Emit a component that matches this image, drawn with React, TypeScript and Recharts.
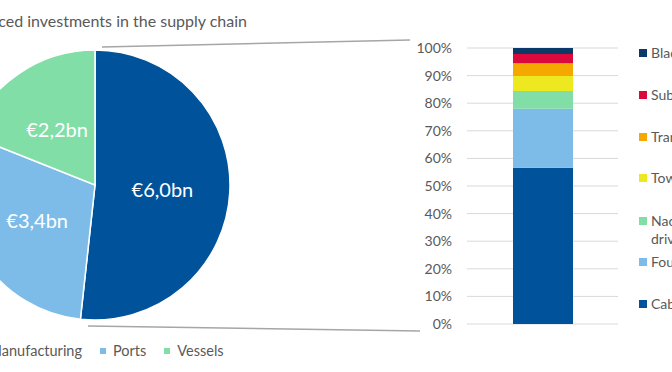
import React from "react";
import { PieChart, Pie, Cell, BarChart, Bar, XAxis, YAxis, CartesianGrid } from "recharts";

const pieNames = ["Manufacturing", "Ports", "Vessels"];
const pieValues = [6.0, 3.4, 2.2];
const pieColors = ["#00529A", "#7DBCE9", "#80DEA6"];

const barCategories = ["Supply chain"];
const barSeries = ["Cables", "Foundations", "Nacelles and drivetrains", "Towers", "Transmission", "Substations", "Blades"];
const barValues = [0.566, 0.214, 0.064, 0.055, 0.046, 0.033, 0.022];
const barColors = ["#00529A", "#7DBCE9", "#80DEA6", "#EDE81F", "#F4A800", "#DC0A3C", "#0B3A68"];
const yTicks = [0, 0.1, 0.2, 0.3, 0.4, 0.5, 0.6, 0.7, 0.8, 0.9, 1.0];

const titleText = "Announced investments in the supply chain";

const FONT = "Lato, 'Open Sans', sans-serif";
const GRAY = "#595959";

const pieData = pieNames.map((n, i) => ({ name: n, value: pieValues[i] }));
const barRow: Record<string, any> = { cat: barCategories[0] };
barSeries.forEach((s, i) => (barRow[s] = barValues[i]));
const barData = [barRow];

const fmt = (v: number) => "€" + v.toFixed(1).replace(".", ",") + "bn";

const RADIAN = Math.PI / 180;
const renderLabel = (p: any) => {
  const r = p.outerRadius * 0.5;
  const x = p.cx + r * Math.cos(-p.midAngle * RADIAN);
  const y = p.cy + r * Math.sin(-p.midAngle * RADIAN);
  return (
    <text x={x} y={y} fill="#ffffff" textAnchor="middle" dominantBaseline="central" fontSize={20} fontFamily={FONT}>
      {fmt(p.value)}
    </text>
  );
};

const legendTops = [53, 95, 137, 178, 221, 262, 304];

export default function App() {
  const legendOrder = [...barSeries.map((s, i) => ({ s, c: barColors[i] }))].reverse();
  return (
    <div style={{ position: "absolute", left: 0, top: 0, width: 672, height: 372, overflow: "hidden", background: "#fff", fontFamily: FONT }}>
      <div style={{ position: "absolute", left: 0, top: 0 }}>
        <PieChart width={260} height={372} margin={{ top: 0, right: 0, bottom: 0, left: 0 }}>
          <Pie
            data={pieData}
            dataKey="value"
            nameKey="name"
            cx={95}
            cy={185}
            outerRadius={135}
            startAngle={90}
            endAngle={-270}
            stroke="#ffffff"
            strokeWidth={1.5}
            label={renderLabel}
            labelLine={false}
            isAnimationActive={false}
          >
            {pieData.map((d, i) => (
              <Cell key={d.name} fill={pieColors[i]} />
            ))}
          </Pie>
        </PieChart>
      </div>
      <div style={{ position: "absolute", left: 400, top: 0 }}>
        <BarChart width={230} height={372} data={barData} margin={{ top: 48, right: 12, bottom: 48, left: 0 }}>
          <CartesianGrid vertical={false} stroke="#d9d9d9" />
          <XAxis dataKey="cat" hide />
          <YAxis
            width={67}
            domain={[0, 1]}
            ticks={yTicks}
            tickFormatter={(v: number) => Math.round(v * 100) + "%"}
            axisLine={false}
            tickLine={false}
            tickSize={0}
            tickMargin={15}
            tick={{ fill: GRAY, fontSize: 14, fontFamily: FONT }}
            interval={0}
          />
          {barSeries.map((s, i) => (
            <Bar key={s} dataKey={s} stackId="a" fill={barColors[i]} barSize={60} isAnimationActive={false} />
          ))}
        </BarChart>
      </div>
      <svg width={672} height={372} style={{ position: "absolute", left: 0, top: 0, pointerEvents: "none" }}>
        <text x={247} y={27} textAnchor="end" fill={GRAY} fontSize={16} fontFamily={FONT}>
          {titleText}
        </text>
        <line x1={102} y1={47} x2={410} y2={40} stroke="#a6a6a6" strokeWidth={1.5} />
        <line x1={88} y1={326} x2={420} y2={331} stroke="#a6a6a6" strokeWidth={1.5} />
      </svg>
      {/* pie legend */}
      <div style={{ position: "absolute", right: 672 - 82, top: 342, display: "flex", alignItems: "center", whiteSpace: "nowrap", fontSize: 14.5, color: GRAY }}>
        <span style={{ width: 6, height: 6, background: pieColors[0], marginRight: 7, display: "inline-block" }} />
        <span>{pieNames[0]}</span>
      </div>
      <div style={{ position: "absolute", left: 100, top: 342, display: "flex", alignItems: "center", whiteSpace: "nowrap", fontSize: 14.5, color: GRAY }}>
        {pieNames.slice(1).map((n, i) => (
          <div key={n} style={{ display: "flex", alignItems: "center", marginRight: 18 }}>
            <span style={{ width: 6, height: 6, background: pieColors[i + 1], marginRight: 7, display: "inline-block" }} />
            <span>{n}</span>
          </div>
        ))}
      </div>
      {/* bar legend */}
      {legendOrder.map((it, i) => (
        <div key={it.s} style={{ position: "absolute", left: 639, top: legendTops[i] - 9, width: 110, fontSize: 14, color: GRAY, lineHeight: "18px" }}>
          <span style={{ position: "absolute", left: 0, top: 5, width: 8, height: 8, background: it.c }} />
          <div style={{ marginLeft: 12 }}>{it.s}</div>
        </div>
      ))}
    </div>
  );
}
